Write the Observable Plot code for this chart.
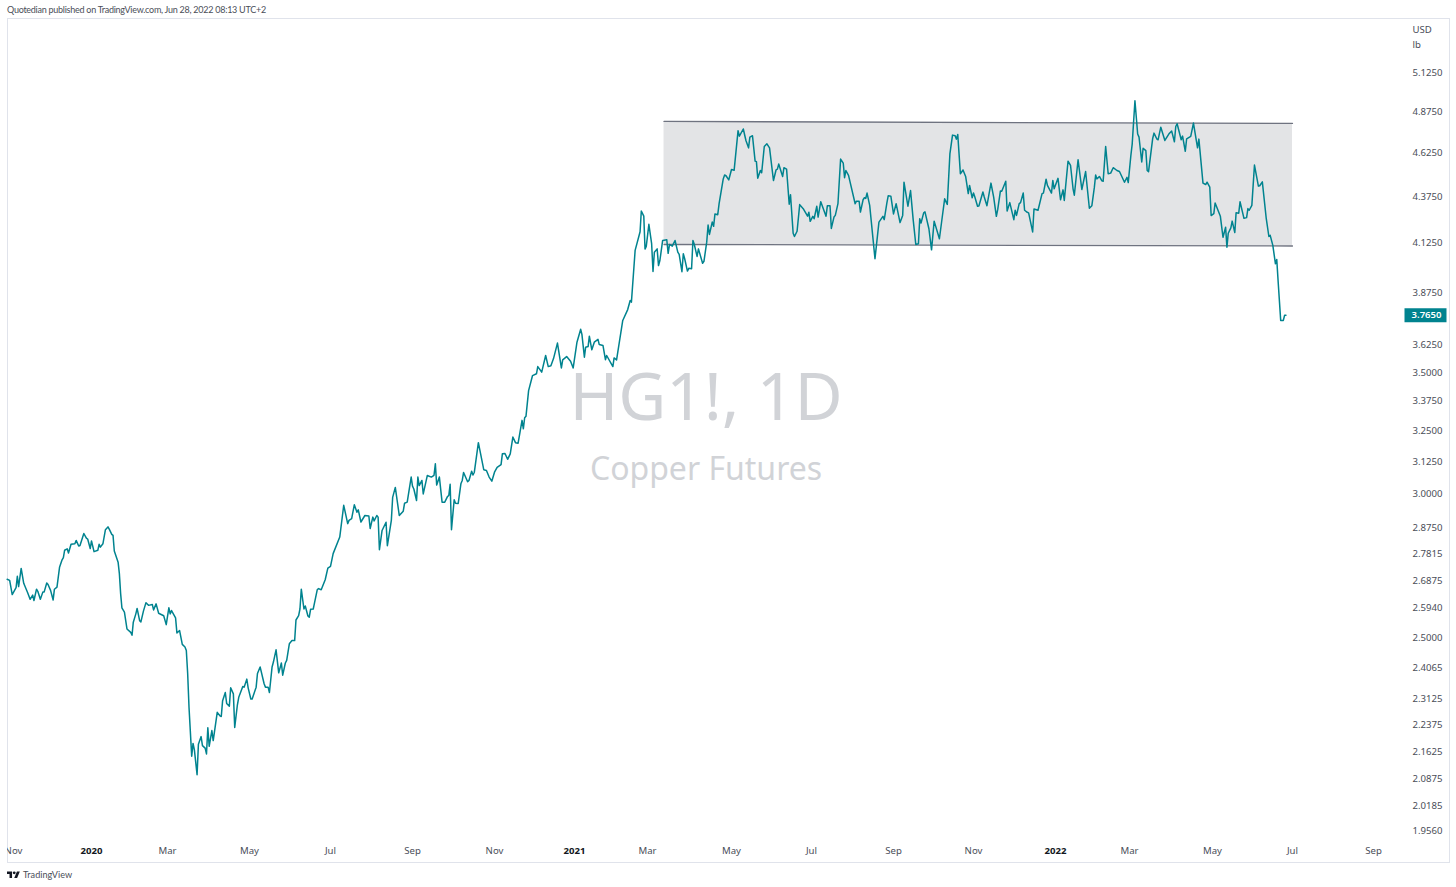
<!DOCTYPE html>
<html><head><meta charset="utf-8">
<script src="https://cdn.jsdelivr.net/npm/d3@7"></script>
<script src="https://cdn.jsdelivr.net/npm/@observablehq/plot@0.6"></script>
<style>
html,body{margin:0;padding:0;background:#fff;}
body{position:relative;width:1456px;height:887px;overflow:hidden;font-family:Lato,sans-serif;}
#head{position:absolute;left:7px;top:3px;font-size:9px;letter-spacing:-0.26px;line-height:14px;color:#4a4e58;white-space:nowrap;}
#foot{position:absolute;left:7px;top:868px;height:13px;font-size:9.1px;line-height:13px;color:#4a4e58;white-space:nowrap;}
#foot svg{position:absolute;left:0;top:2px;}
#foot span{position:absolute;left:16px;top:0;}
svg{display:block;}
</style></head>
<body>
<div id="chart"></div>
<div id="head">Quotedian published on TradingView.com, Jun 28, 2022 08:13 UTC+2</div>
<div id="foot"><svg width="13" height="10" viewBox="0 2 36 24"><path fill="#131722" d="M14 22H7V11H0V4h14v18zM28 22h-8l7.5-18h8L28 22z"/><circle fill="#131722" cx="20" cy="8" r="4"/></svg><span>TradingView</span></div>
<script>
const closes2019 = [["10-27",2.692],["10-29",2.688],["10-31",2.640],["11-03",2.663],["11-04",2.702],["11-05",2.667],["11-07",2.729],["11-09",2.678],["11-12",2.647],["11-14",2.624],["11-16",2.638],["11-17",2.620],["11-19",2.658],["11-20",2.651],["11-22",2.624],["11-24",2.649],["11-25",2.649],["11-27",2.679],["11-28",2.674],["11-30",2.654],["12-02",2.622],["12-03",2.658],["12-05",2.665],["12-07",2.733],["12-09",2.759],["12-10",2.767],["12-11",2.793],["12-13",2.798],["12-14",2.783],["12-16",2.814],["12-19",2.816],["12-20",2.828],["12-22",2.808],["12-23",2.810],["12-26",2.853],["12-28",2.836],["12-29",2.833],["12-31",2.799]];

const closes2020a = [["01-01",2.826],["01-03",2.788],["01-06",2.793],["01-07",2.814],["01-08",2.804],["01-10",2.816],["01-12",2.867],["01-14",2.877],["01-15",2.869],["01-17",2.850],["01-18",2.846],["01-19",2.790],["01-22",2.751],["01-23",2.711],["01-24",2.643],["01-25",2.596],["01-27",2.582],["01-29",2.527],["02-01",2.516],["02-02",2.507],["02-03",2.549],["02-05",2.576],["02-06",2.594],["02-08",2.554],["02-09",2.550],["02-11",2.585],["02-13",2.613],["02-15",2.604],["02-18",2.607],["02-19",2.589],["02-21",2.609],["02-23",2.578],["02-27",2.570],["02-29",2.541],["03-02",2.596],["03-03",2.576],["03-04",2.587],["03-07",2.563],["03-08",2.514],["03-10",2.522],["03-12",2.478],["03-14",2.470],["03-15",2.459],["03-16",2.388],["03-17",2.288],["03-19",2.150],["03-20",2.185],["03-21",2.167],["03-23",2.100],["03-24",2.183],["03-26",2.204],["03-27",2.179],["03-29",2.172],["03-30",2.156],["03-31",2.229],["04-01",2.177],["04-03",2.221],["04-04",2.193],["04-07",2.273],["04-09",2.263],["04-10",2.261],["04-11",2.307],["04-13",2.331],["04-14",2.299],["04-16",2.291],["04-17",2.345],["04-19",2.327],["04-20",2.230],["04-22",2.295],["04-23",2.317],["04-26",2.349],["04-27",2.347],["04-29",2.371],["04-30",2.345],["05-02",2.312],["05-03",2.312],["05-06",2.347],["05-07",2.388],["05-09",2.408],["05-12",2.357],["05-13",2.347],["05-15",2.347],["05-16",2.331],["05-18",2.408],["05-19",2.423],["05-21",2.461],["05-23",2.390],["05-25",2.420],["05-26",2.383],["05-28",2.420],["05-29",2.428],["05-31",2.480],["06-02",2.490],["06-04",2.490],["06-05",2.556],["06-07",2.570],["06-08",2.592],["06-09",2.658],["06-11",2.592],["06-12",2.602],["06-14",2.569],["06-15",2.565],["06-16",2.591],["06-18",2.592],["06-19",2.613],["06-21",2.656],["06-22",2.660],["06-24",2.656],["06-27",2.690],["06-29",2.730]];

const closes2020b = [["07-01",2.736],["07-03",2.781],["07-08",2.840],["07-11",2.957],["07-14",2.889],["07-15",2.901],["07-17",2.907],["07-19",2.959],["07-21",2.931],["07-22",2.940],["07-24",2.895],["07-27",2.919],["07-30",2.917],["07-31",2.871],["08-02",2.913],["08-03",2.899],["08-05",2.919],["08-06",2.913],["08-07",2.795],["08-09",2.864],["08-12",2.894],["08-13",2.809],["08-16",2.901],["08-17",2.987],["08-19",3.025],["08-22",2.919],["08-25",2.935],["08-26",2.965],["08-28",2.969],["08-31",3.065],["09-01",3.030],["09-02",3.019],["09-04",2.975],["09-05",3.065],["09-06",3.032],["09-08",3.052],["09-09",3.000],["09-12",3.071],["09-15",3.065],["09-17",3.072],["09-18",3.117],["09-19",3.034],["09-21",3.065],["09-23",2.969],["09-25",2.969],["09-27",2.990],["09-28",2.994],["09-29",3.037],["09-30",2.867],["10-02",2.978],["10-03",2.965],["10-05",2.964],["10-07",3.039],["10-08",3.052],["10-09",3.083],["10-12",3.047],["10-13",3.052],["10-15",3.088],["10-16",3.073],["10-17",3.084],["10-20",3.202],["10-24",3.094],["10-26",3.091],["10-28",3.065],["10-30",3.049],["11-01",3.084],["11-03",3.103],["11-06",3.114],["11-07",3.157],["11-09",3.158],["11-11",3.135],["11-13",3.157],["11-15",3.225],["11-17",3.202],["11-19",3.200],["11-22",3.294],["11-23",3.259],["11-24",3.305],["11-25",3.311],["11-27",3.421],["11-30",3.487],["12-03",3.495],["12-04",3.527],["12-07",3.502],["12-10",3.577],["12-12",3.527],["12-14",3.531],["12-16",3.563],["12-19",3.634],["12-22",3.521],["12-23",3.557],["12-26",3.572],["12-29",3.551],["12-31",3.521]];

const closes2021a = [["01-03",3.638],["01-06",3.698],["01-07",3.674],["01-09",3.569],["01-10",3.615],["01-12",3.618],["01-13",3.666],["01-15",3.603],["01-17",3.638],["01-20",3.651],["01-21",3.627],["01-24",3.623],["01-26",3.558],["01-27",3.577],["02-01",3.527],["02-02",3.566],["02-04",3.557],["02-09",3.740],["02-13",3.792],["02-15",3.836],["02-16",3.828],["02-19",4.088],["02-23",4.186],["02-24",4.298],["02-26",4.270],["02-27",4.095],["02-28",4.109],["03-02",4.226],["03-04",4.123],["03-05",3.980],["03-06",4.079],["03-08",4.096],["03-09",4.010],["03-10",4.036],["03-12",4.140],["03-15",4.144],["03-16",4.073],["03-17",4.119],["03-19",4.110],["03-21",4.140],["03-23",4.079],["03-24",4.067],["03-26",3.979],["03-27",4.071],["03-28",4.045],["03-30",3.982],["03-31",3.996],["04-02",3.994],["04-03",4.140],["04-04",4.119],["04-06",4.057],["04-07",4.096],["04-10",4.022],["04-11",4.032],["04-13",4.131],["04-14",4.222],["04-15",4.172],["04-17",4.238],["04-18",4.215],["04-19",4.282],["04-21",4.278],["04-22",4.338],["04-25",4.477],["04-26",4.499],["04-27",4.495],["04-29",4.471],["05-01",4.531],["05-03",4.526],["05-06",4.760],["05-07",4.727],["05-10",4.770],["05-12",4.701],["05-14",4.657],["05-15",4.721],["05-17",4.729],["05-19",4.579],["05-20",4.576],["05-21",4.481],["05-23",4.525],["05-24",4.512],["05-26",4.665],["05-28",4.681],["05-30",4.657],["06-02",4.468],["06-04",4.529],["06-05",4.533],["06-06",4.562],["06-09",4.491],["06-10",4.541],["06-12",4.533],["06-14",4.335],["06-15",4.388],["06-17",4.178],["06-18",4.161],["06-20",4.189],["06-22",4.333],["06-25",4.307],["06-28",4.270],["06-29",4.291],["06-30",4.242]];

const closes2021b = [["07-02",4.269],["07-03",4.256],["07-05",4.324],["07-06",4.265],["07-08",4.349],["07-12",4.270],["07-13",4.327],["07-15",4.327],["07-16",4.204],["07-18",4.265],["07-19",4.274],["07-21",4.338],["07-23",4.591],["07-25",4.568],["07-26",4.484],["07-27",4.525],["07-29",4.497],["08-03",4.338],["08-04",4.352],["08-06",4.352],["08-07",4.292],["08-09",4.360],["08-10",4.371],["08-11",4.367],["08-12",4.397],["08-14",4.329],["08-18",4.045],["08-21",4.238],["08-24",4.269],["08-25",4.251],["08-27",4.342],["08-28",4.382],["08-30",4.380],["09-01",4.282],["09-03",4.338],["09-06",4.235],["09-08",4.274],["09-09",4.458],["09-12",4.324],["09-14",4.411],["09-16",4.251],["09-18",4.119],["09-20",4.123],["09-21",4.256],["09-22",4.233],["09-24",4.288],["09-25",4.293],["09-28",4.202],["09-30",4.091],["10-02",4.243],["10-06",4.149],["10-08",4.256],["10-10",4.365],["10-12",4.334],["10-14",4.621],["10-16",4.733],["10-18",4.729],["10-19",4.709],["10-20",4.737],["10-22",4.506],["10-24",4.528],["10-26",4.491],["10-28",4.394],["10-29",4.440],["10-31",4.371],["11-01",4.397],["11-02",4.375],["11-04",4.324],["11-05",4.325],["11-08",4.403],["11-09",4.375],["11-11",4.327],["11-14",4.453],["11-16",4.375],["11-18",4.269],["11-19",4.305],["11-21",4.408],["11-22",4.407],["11-25",4.464],["11-26",4.298],["11-28",4.344],["12-01",4.251],["12-02",4.302],["12-03",4.274],["12-05",4.338],["12-06",4.344],["12-08",4.397],["12-09",4.302],["12-11",4.291],["12-12",4.288],["12-15",4.185],["12-16",4.309],["12-19",4.302],["12-22",4.394],["12-23",4.397],["12-25",4.475],["12-26",4.440],["12-29",4.397],["12-30",4.468],["12-31",4.421]];

const closes2022 = [["01-03",4.480],["01-05",4.360],["01-07",4.415],["01-08",4.356],["01-11",4.579],["01-13",4.554],["01-15",4.421],["01-16",4.385],["01-19",4.587],["01-22",4.417],["01-25",4.519],["01-28",4.313],["01-30",4.327],["02-01",4.430],["02-02",4.499],["02-03",4.477],["02-05",4.491],["02-07",4.466],["02-08",4.464],["02-10",4.665],["02-12",4.506],["02-14",4.510],["02-16",4.541],["02-19",4.525],["02-21",4.519],["02-25",4.458],["02-27",4.486],["02-28",4.456],["03-02",4.612],["03-03",4.681],["03-05",4.944],["03-07",4.740],["03-08",4.721],["03-10",4.574],["03-11",4.655],["03-13",4.641],["03-14",4.525],["03-15",4.518],["03-18",4.711],["03-19",4.745],["03-21",4.711],["03-22",4.705],["03-24",4.781],["03-27",4.701],["03-30",4.741],["04-01",4.757],["04-03",4.693],["04-04",4.785],["04-05",4.802],["04-08",4.705],["04-09",4.727],["04-11",4.637],["04-12",4.711],["04-15",4.725],["04-17",4.806],["04-20",4.657],["04-21",4.709],["04-24",4.453],["04-26",4.445],["04-27",4.458],["04-29",4.430],["04-30",4.273],["05-02",4.284],["05-03",4.342],["05-07",4.269],["05-09",4.157],["05-11",4.210],["05-12",4.105],["05-13",4.178],["05-15",4.207],["05-16",4.243],["05-18",4.182],["05-19",4.289],["05-21",4.286],["05-22",4.349],["05-25",4.258],["05-27",4.262],["05-28",4.311],["05-29",4.302],["05-31",4.329],["06-02",4.556],["06-05",4.436],["06-06",4.438],["06-08",4.460],["06-11",4.256],["06-13",4.161],["06-14",4.167],["06-16",4.114],["06-18",4.019],["06-19",4.041],["06-20",3.935],["06-22",3.740],["06-24",3.740],["06-25",3.765],["06-26",3.765]];

const lastPrice = [3.765];

const yTickValues = [5.125,4.875,4.625,4.375,4.125,3.875,3.625,3.5,3.375,3.25,3.125,3,2.875,2.7815,2.6875,2.594,2.5,2.4065,2.3125,2.2375,2.1625,2.0875,2.0185,1.956];

const monthTicks = ["2019-11-01","2020-03-01","2020-05-01","2020-07-01","2020-09-01","2020-11-01","2021-03-01","2021-05-01","2021-07-01","2021-09-01","2021-11-01","2022-03-01","2022-05-01","2022-07-01","2022-09-01"].map(d=>new Date(d+"T00:00Z"));
const yearTicks = ["2020-01-01","2021-01-01","2022-01-01"].map(d=>new Date(d+"T00:00Z"));

const channelDates = ["2021-03-13","2022-07-01"].map(d=>new Date(d+"T00:00Z"));
const channelTop = [4.816,4.804];
const channelBottom = [4.119,4.111];

const watermark = "HG1!, 1D";
const watermarkSub = "Copper Futures";

const toRows = (year, rows) => rows.map(([md,close]) => ({date:new Date(`${year}-${md}T00:00Z`), close}));
const series = [...toRows(2019,closes2019),...toRows(2020,closes2020a),...toRows(2020,closes2020b),...toRows(2021,closes2021a),...toRows(2021,closes2021b),...toRows(2022,closes2022)];
const channel = channelDates.map((date,i)=>({date,top:channelTop[i],bottom:channelBottom[i]}));

const FONT = '"Noto Sans", sans-serif';
const TEAL = "#00838f";
const GREY = "#6f7380";
const axisDomain = [...monthTicks,...yearTicks].sort((a,b)=>a-b);

const priceBox = {draw(ctx){ctx.rect(-21,-7,42,14);}};

const plot = Plot.plot({
  width:1456, height:887,
  marginLeft:7, marginRight:7, marginTop:18, marginBottom:25,
  style:{fontFamily:FONT, background:"#fff"},
  x:{type:"utc", domain:axisDomain, range:[13,91,167,249,330,412,494,574,647,731,811,893,973,1055,1129,1212,1292,1373]},
  y:{type:"log", domain:[1.8782,5.489]},
  marks:[
    Plot.frame({stroke:"#e0e3eb"}),
    Plot.areaY(channel,{x:"date",y1:"bottom",y2:"top",fill:"#e3e4e6"}),
    Plot.line(channel,{x:"date",y:"top",stroke:GREY,strokeWidth:1.3}),
    Plot.line(channel,{x:"date",y:"bottom",stroke:GREY,strokeWidth:1.3}),
    Plot.text([watermark],{frameAnchor:"middle",dx:-22.5,dy:-42,fontSize:66,fill:"#d1d3d7",fontWeight:400}),
    Plot.text([watermarkSub],{frameAnchor:"middle",dx:-22.5,dy:29,fontSize:32,fill:"#d1d3d7",fontWeight:400}),
    Plot.line(series,{x:"date",y:"close",stroke:TEAL,strokeWidth:1.5}),
    Plot.axisY(yTickValues,{anchor:"right",tickSize:0,tickPadding:-37,tickFormat:d=>d.toFixed(4),fontSize:9.6,fill:"#4a4e58",label:null}),
    Plot.text(["USD"],{frameAnchor:"top-right",textAnchor:"start",lineAnchor:"middle",dx:-37,dy:11,fontSize:9.6,fill:"#4a4e58"}),
    Plot.text(["lb"],{frameAnchor:"top-right",textAnchor:"start",lineAnchor:"middle",dx:-37,dy:26,fontSize:9.6,fill:"#4a4e58"}),
    Plot.dot(lastPrice,{y:d=>d,frameAnchor:"right",dx:-24,symbol:priceBox,fill:TEAL,stroke:"none"}),
    Plot.text(lastPrice,{y:d=>d,text:d=>d.toFixed(4),frameAnchor:"right",textAnchor:"start",dx:-38,fontSize:9.6,fill:"#fff",fontWeight:600}),
    Plot.axisX(monthTicks,{anchor:"bottom",tickSize:0,tickPadding:-15,tickFormat:d3.utcFormat("%b"),fontSize:9.6,fill:"#4a4e58",label:null,clip:"frame"}),
    Plot.axisX(yearTicks,{anchor:"bottom",tickSize:0,tickPadding:-15,tickFormat:d3.utcFormat("%Y"),fontSize:9.6,fontWeight:700,fill:"#131722",label:null})
  ]
});
document.getElementById("chart").append(plot);
</script>
</body></html>
